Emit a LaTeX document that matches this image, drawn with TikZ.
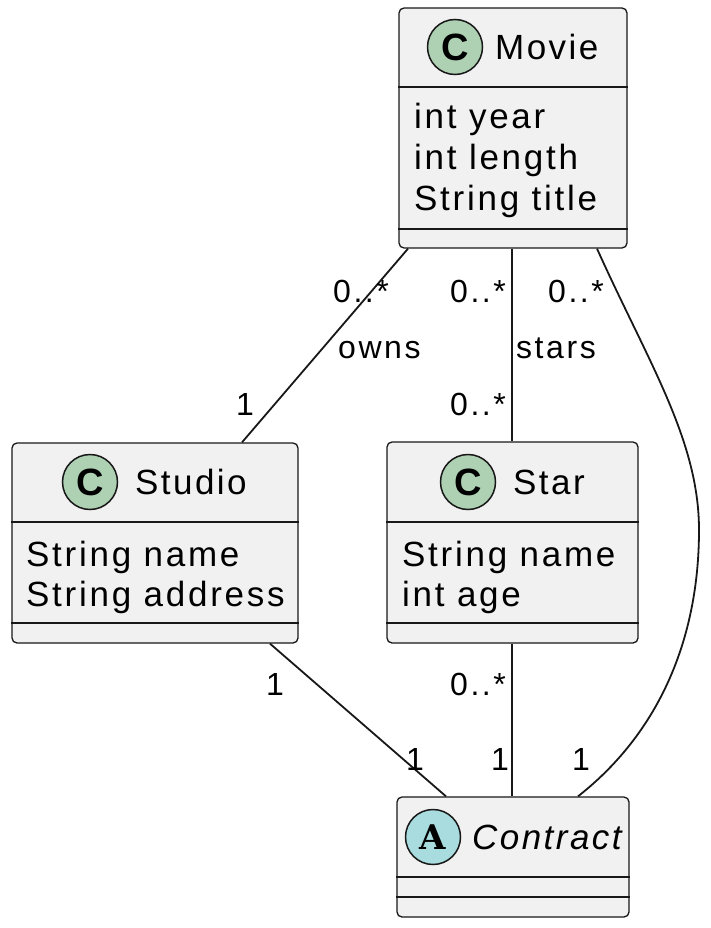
\documentclass[tikz,border=0pt]{standalone}
\usepackage{fontspec}
\setmainfont{Liberation Sans}[LetterSpace=7]
\newfontfamily\attrfont{Liberation Sans}[LetterSpace=7.8]
\newfontfamily\multfont{Liberation Sans}[LetterSpace=8]
\newfontfamily\slabfont{DejaVu Serif}
\definecolor{boxfill}{HTML}{F1F1F1}
\definecolor{linecol}{HTML}{181818}
\definecolor{cgreen}{HTML}{ADD1B2}
\definecolor{acyan}{HTML}{A9DCDF}
\tikzset{
  classbox/.style={draw=linecol, fill=boxfill, line width=1.3pt, rounded corners=5pt, inner sep=0pt},
  sep/.style={draw=linecol, line width=1.3pt},
  badge/.style={circle, draw=linecol, line width=1.5pt, minimum size=55pt, inner sep=0pt},
  cname/.style={anchor=base west, inner sep=0pt, font=\fontsize{35}{40}\selectfont},
  attr/.style={anchor=base west, inner sep=0pt, font=\attrfont\fontsize{35}{40}\selectfont},
  mult/.style={anchor=base west, inner sep=0pt, font=\multfont\fontsize{32}{36}\selectfont},
  assoc/.style={draw=linecol, line width=1.8pt},
}
\begin{document}
\begin{tikzpicture}[x=1pt,y=-1pt]
\useasboundingbox (0,0) rectangle (710,928);

% Movie
\node[classbox, minimum width=228pt, minimum height=240pt] (movie) at (513,128) {};
\draw[sep] (movie.west |- 0,87) -- (movie.east |- 0,87);
\draw[sep] (movie.west |- 0,229) -- (movie.east |- 0,229);
\node[badge, fill=cgreen] (movieC) at (455,47) {\fontsize{38}{40}\selectfont\bfseries C};
\node[cname] (movieN) at (495,60) {Movie};
\node[attr] (movieA1) at (414,129) {int year};
\node[attr] (movieA2) at (414,170) {int length};
\node[attr] (movieA3) at (414,211) {String title};

% Studio
\node[classbox, minimum width=286pt, minimum height=200pt] (studio) at (155,543) {};
\draw[sep] (studio.west |- 0,522) -- (studio.east |- 0,522);
\draw[sep] (studio.west |- 0,623) -- (studio.east |- 0,623);
\node[badge, fill=cgreen] (studioC) at (90,482) {\fontsize{38}{40}\selectfont\bfseries C};
\node[cname] (studioN) at (135,494) {Studio};
\node[attr] (studioA1) at (26,566) {String name};
\node[attr] (studioA2) at (26,606) {String address};

% Star
\node[classbox, minimum width=251pt, minimum height=201pt] (star) at (512.5,542.5) {};
\draw[sep] (star.west |- 0,522) -- (star.east |- 0,522);
\draw[sep] (star.west |- 0,623) -- (star.east |- 0,623);
\node[badge, fill=cgreen] (starC) at (468,482) {\fontsize{38}{40}\selectfont\bfseries C};
\node[cname] (starN) at (513,494) {Star};
\node[attr] (starA1) at (402,566) {String name};
\node[attr] (starA2) at (402,606) {int age};

% Contract
\node[classbox, minimum width=232pt, minimum height=120pt] (contract) at (513,857) {};
\draw[sep] (contract.west |- 0,877) -- (contract.east |- 0,877);
\draw[sep] (contract.west |- 0,897) -- (contract.east |- 0,897);
\node[badge, fill=acyan] (contractA) at (433,837) {\fontsize{34}{40}\selectfont\slabfont\bfseries A};
\node[cname, font=\fontsize{35}{40}\selectfont\itshape] (contractN) at (472,849) {Contract};

% Associations
\draw[assoc] (movie.south -| 408,0) -- (studio.north -| 242,0);
\draw[assoc] (movie.south -| 512,0) -- (star.north -| 512,0);
\draw[assoc] (movie.south -| 597,0) .. controls (648,362) and (699,440) .. (699,530)
   .. controls (699,630) and (665,728) .. (contract.north -| 578,0);
\draw[assoc] (studio.south -| 270,0) -- (contract.north -| 446,0);
\draw[assoc] (star.south -| 512,0) -- (contract.north -| 512,0);

% Labels
\node[mult] (l1) at (333,302) {0..*};
\node[mult] (l2) at (338,358) {owns};
\node[mult] (l3) at (236,415) {1};
\node[mult] (l4) at (450,302) {0..*};
\node[mult] (l5) at (516,358) {stars};
\node[mult] (l6) at (450,415) {0..*};
\node[mult] (l7) at (548,302) {0..*};
\node[mult] (l8) at (266,695) {1};
\node[mult] (l9) at (450,695) {0..*};
\node[mult] (l10) at (406,770) {1};
\node[mult] (l11) at (491,770) {1};
\node[mult] (l12) at (572,770) {1};
\end{tikzpicture}
\end{document}
